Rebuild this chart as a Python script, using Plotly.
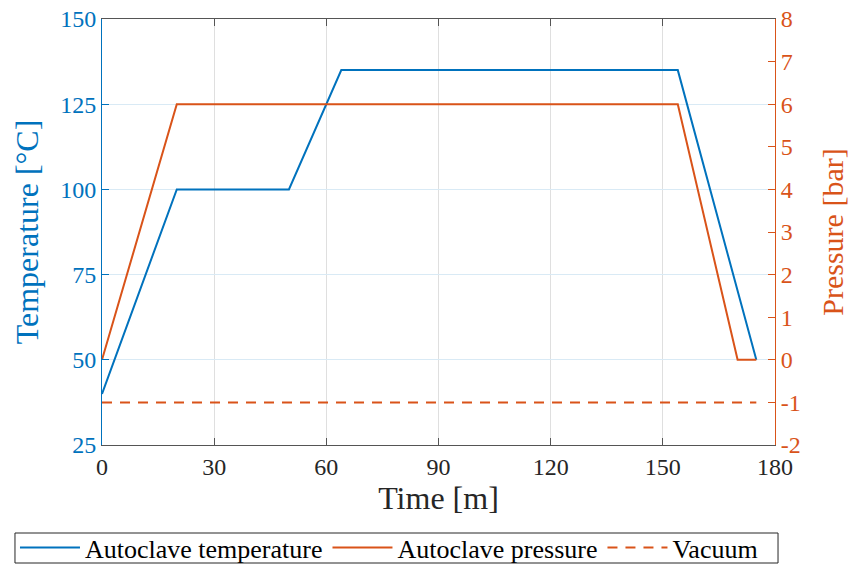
import plotly.graph_objects as go

# Data
temp_time = [0, 20, 50, 64, 154, 175]
temp_values = [40, 100, 100, 135, 135, 50]
press_time = [0, 20, 154, 170, 175]
press_values = [0, 6, 6, 0, 0]
vac_time = [0, 175]
vac_values = [-1, -1]

x_ticks = [0, 30, 60, 90, 120, 150, 180]
temp_ticks = [25, 50, 75, 100, 125, 150]
press_ticks = [-2, -1, 0, 1, 2, 3, 4, 5, 6, 7, 8]

BLUE = "#0072BD"
ORANGE = "#D95319"
DARK = "#262626"
FONT = "Liberation Serif"

fig = go.Figure()
fig.add_trace(go.Scatter(x=temp_time, y=temp_values, mode="lines", name="Autoclave temperature",
                         line=dict(color=BLUE, width=2), yaxis="y"))
fig.add_trace(go.Scatter(x=press_time, y=press_values, mode="lines", name="Autoclave pressure",
                         line=dict(color=ORANGE, width=2), yaxis="y2"))
fig.add_trace(go.Scatter(x=vac_time, y=vac_values, mode="lines", name="Vacuum",
                         line=dict(color=ORANGE, width=2, dash="10px,8px"), yaxis="y2"))

# legend frame (box around the legend, as in the reference)
fig.add_shape(type="rect", xref="paper", yref="paper",
              x0=-0.1293, x1=1.0045, y0=-0.277, y1=-0.2066,
              line=dict(color=DARK, width=1), fillcolor="rgba(0,0,0,0)", layer="above")

fig.update_layout(
    width=850, height=565,
    margin=dict(l=102, r=75, t=19, b=120, autoexpand=False),
    plot_bgcolor="white", paper_bgcolor="white",
    font=dict(family=FONT, size=24, color=DARK),
    showlegend=True,
    legend=dict(orientation="h", x=-0.1293, xanchor="left",
                y=-0.1854, yanchor="top",
                borderwidth=0, bgcolor="rgba(0,0,0,0)",
                font=dict(family=FONT, size=26, color="black"),
                itemwidth=60, tracegroupgap=0, traceorder="normal"),
    xaxis=dict(range=[0, 180], tickvals=x_ticks, ticktext=[str(v) for v in x_ticks],
               showgrid=True, gridcolor="rgb(223,223,223)", gridwidth=1,
               zeroline=False, showline=True, linecolor="#555555", linewidth=1,
               mirror="ticks", ticks="inside", ticklen=7, tickcolor="#555555",
               tickfont=dict(family=FONT, size=24, color=DARK),
               title=dict(text="Time [m]", font=dict(family=FONT, size=32, color=DARK), standoff=0)),
    yaxis=dict(range=[25, 150], tickvals=temp_ticks, ticktext=[str(v) for v in temp_ticks],
               showgrid=True, gridcolor="rgb(217,234,245)", gridwidth=1,
               zeroline=False, showline=True, linecolor=BLUE, linewidth=1,
               ticks="inside", ticklen=7, tickcolor=BLUE,
               tickfont=dict(family=FONT, size=24, color=BLUE),
               title=dict(text="Temperature [°C]", font=dict(family=FONT, size=32, color=BLUE), standoff=12)),
    yaxis2=dict(range=[-2, 8], tickvals=press_ticks, ticktext=[str(v) for v in press_ticks],
                overlaying="y", side="right", showgrid=False,
                zeroline=False, showline=True, linecolor=ORANGE, linewidth=1,
                ticks="inside", ticklen=7, tickcolor=ORANGE,
                tickfont=dict(family=FONT, size=24, color=ORANGE),
                title=dict(text="Pressure [bar]", font=dict(family=FONT, size=30, color=ORANGE), standoff=22)),
)

fig.write_html("out.html")
